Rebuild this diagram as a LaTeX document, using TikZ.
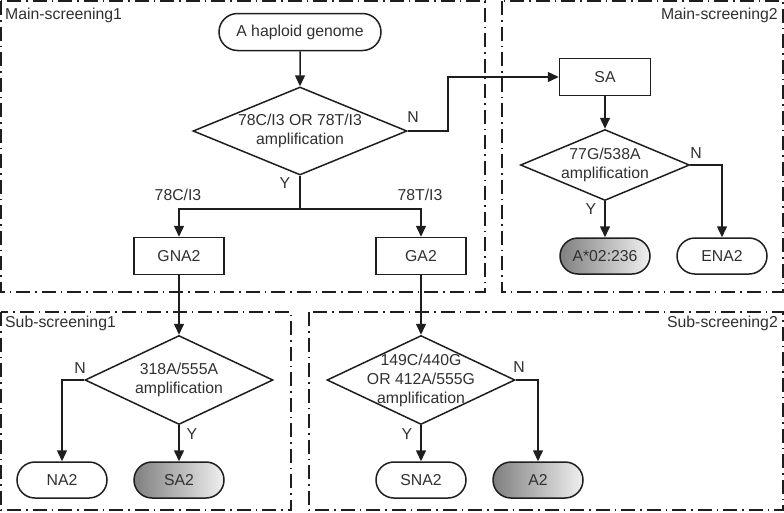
\documentclass[tikz,border=0pt]{standalone}
\usepackage{fontspec}
\setmainfont{Liberation Sans}
\usetikzlibrary{shapes.geometric,shapes.misc,arrows.meta}
\definecolor{ink}{HTML}{1E1E1E}
\definecolor{txt}{HTML}{303030}
\begin{document}
\begin{tikzpicture}[x=1pt,y=-1pt,
  every node/.style={font=\fontsize{15.8}{19}\selectfont, text=txt},
  line/.style={draw=ink, line width=1.5pt},
  arr/.style={line, -{Triangle[length=11pt,width=10pt]}},
  frame/.style={draw=ink, line width=1.3pt, dash pattern=on 14pt off 5pt on 1.5pt off 5pt},
  procbox/.style={line, rectangle, minimum width=90pt, minimum height=37pt, inner sep=0pt},
  termbox/.style={line, rounded rectangle, minimum width=90pt, minimum height=36pt, inner sep=0pt},
  greybox/.style={termbox, left color=black!50, right color=black!6},
  decbox/.style={line, diamond, inner sep=0pt},
  lbl/.style={inner sep=1pt},
  dectext/.style={inner sep=0pt, align=center}
]
\useasboundingbox (0,0) rectangle (784,512);
% frames
\draw[frame] (1,1) rectangle (485,292);
\draw[frame] (502,1) rectangle (783,292);
\draw[frame] (1,312) rectangle (291,510);
\draw[frame] (309,312) rectangle (783,510);
\node[anchor=west, inner sep=0pt] (f1) at (5,15) {Main-screening1};
\node[anchor=east, inner sep=0pt] (f2) at (778,15) {Main-screening2};
\node[anchor=west, inner sep=0pt] (f3) at (5,323) {Sub-screening1};
\node[anchor=east, inner sep=0pt] (f4) at (778,323) {Sub-screening2};

% main screening 1
\node[termbox, minimum width=162pt, minimum height=37pt] (start) at (300,32) {A haploid genome};
\node[decbox, minimum width=214pt, minimum height=88pt] (d1) at (300,131) {};
\node[dectext] (d1t) at (d1.center) {78C/I3 OR 78T/I3\\amplification};
\coordinate (br) at (300,209);
\node[procbox] (gna2) at (179,256) {GNA2};
\node[procbox] (ga2) at (421,256) {GA2};
\coordinate (n1) at (448,77);

% main screening 2
\node[procbox, minimum width=91pt] (sa) at (605,77) {SA};
\node[decbox, minimum width=169pt, minimum height=71pt] (d2) at (605,165) {};
\node[dectext] (d2t) at (d2.center) {77G/538A\\amplification};
\node[greybox] (astar) at (605,256) {A*02:236};
\node[termbox] (ena2) at (722,256) {ENA2};

% sub screening 1
\node[decbox, minimum width=188pt, minimum height=89pt] (d3) at (179,380) {};
\node[dectext] (d3t) at (d3.center) {318A/555A\\amplification};
\node[termbox] (na2) at (62,480) {NA2};
\node[greybox] (sa2) at (179,480) {SA2};

% sub screening 2
\node[decbox, minimum width=188pt, minimum height=89pt] (d4) at (421,380) {};
\node[dectext] (d4t) at (d4.center) {149C/440G\\OR 412A/555G\\amplification};
\node[termbox] (sna2) at (421,480) {SNA2};
\node[greybox] (a2) at (538,480) {A2};

% connectors
\draw[arr] (start) -- (d1);
\draw[line] (d1.south) -- (br);
\draw[arr] (br) -| (gna2.north);
\draw[arr] (br) -| (ga2.north);
\draw[arr] (d1.east) -| (n1) -- (sa.west);
\draw[arr] (sa) -- (d2);
\draw[arr] (d2.south) -- (astar.north);
\draw[arr] (d2.east) -| (ena2.north);
\draw[arr] (gna2.south) -- (d3.north);
\draw[arr] (ga2.south) -- (d4.north);
\draw[arr] (d3.west) -| (na2.north);
\draw[arr] (d3.south) -- (sa2.north);
\draw[arr] (d4.south) -- (sna2.north);
\draw[arr] (d4.east) -| (a2.north);

% labels
\node[lbl] (y1) at (285,183) {Y};
\node[lbl] (n1l) at (413,117) {N};
\node[lbl] (c78) at (178,195) {78C/I3};
\node[lbl] (t78) at (420,195) {78T/I3};
\node[lbl] (n2l) at (696,153) {N};
\node[lbl] (y2) at (591,209) {Y};
\node[lbl] (n3l) at (80,368) {N};
\node[lbl] (y3) at (192,434) {Y};
\node[lbl] (n4l) at (519,367) {N};
\node[lbl] (y4) at (407,434) {Y};
\end{tikzpicture}
\end{document}
